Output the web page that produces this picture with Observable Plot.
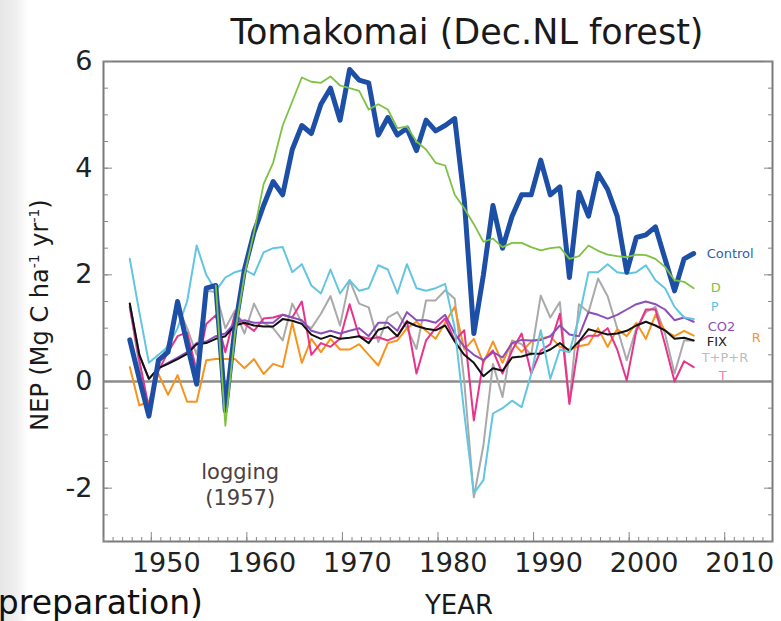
<!DOCTYPE html>
<html>
<head>
<meta charset="utf-8">
<script src="https://cdn.jsdelivr.net/npm/d3@7"></script>
<script src="https://cdn.jsdelivr.net/npm/@observablehq/plot@0.6"></script>
<style>
  html, body { margin: 0; padding: 0; background: #fff; }
  #wrap { position: relative; width: 781px; height: 621px; overflow: hidden;
          font-family: "DejaVu Sans", sans-serif;
          background: linear-gradient(to right, #e6e6e6 0px, #efefef 16px, #fafafa 24px, #ffffff 28px); }
  #chart { position: absolute; left: 0; top: 0; }
  #overlay { position: absolute; left: 0; top: 0; pointer-events: none; }
</style>
</head>
<body>
<div id="wrap">
  <div id="chart"></div>
  <svg id="overlay" width="781" height="621" font-family="DejaVu Sans, sans-serif">
    <text x="467" y="44" text-anchor="middle" font-size="35" fill="#1a1a1a">Tomakomai (Dec.NL forest)</text>
    <text transform="translate(48,315) rotate(-90)" text-anchor="middle" font-size="24" fill="#1a1a1a">NEP (Mg C ha<tspan dy="-9" font-size="14">-1</tspan><tspan dy="9"> yr</tspan><tspan dy="-9" font-size="14">-1</tspan><tspan dy="9">)</tspan></text>
    <text x="459" y="614" text-anchor="middle" font-size="26" fill="#1a1a1a">YEAR</text>
    <text x="203" y="614" text-anchor="end" font-size="33" fill="#111">(in preparation)</text>
  </svg>
</div>
<script>
// ---- data ----
const years = d3.range(1947, 2007);

const control = [0.78, 0.05, -0.65, 0.4, 0.55, 1.5, 0.7, -0.05, 1.75, 1.8,
  -0.55, 1.0, 2.1, 2.8, 3.3, 3.75, 3.5, 4.35, 4.8, 4.65,
  5.2, 5.5, 4.9, 5.85, 5.65, 5.6, 4.62, 4.95, 4.62, 4.75,
  4.33, 4.9, 4.7, 4.8, 4.93, 3.4, 0.9, 2.0, 3.3, 2.5,
  3.1, 3.5, 3.5, 4.15, 3.5, 3.65, 1.95, 3.55, 3.1, 3.9,
  3.6, 3.1, 2.05, 2.7, 2.75, 2.9, 2.3, 1.7, 2.3, 2.4];

const dSeries = [null, null, null, null, null, null, null, null, null, 1.8,
  -0.83, 0.9, 2.0, 2.8, 3.7, 4.1, 4.8, 5.25, 5.7, 5.62,
  5.6, 5.72, 5.55, 5.5, 5.45, 5.1, 5.2, 5.1, 4.75, 4.78,
  4.5, 4.35, 4.1, 4.05, 3.5, 3.25, 2.95, 2.62, 2.68, 2.52,
  2.6, 2.6, 2.52, 2.46, 2.5, 2.52, 2.3, 2.35, 2.55, 2.45,
  2.38, 2.35, 2.33, 2.38, 2.37, 2.3, 2.15, 1.9, 1.87, 1.75];

const pSeries = [2.3, 1.3, 0.35, 0.5, 0.65, 1.0, 1.5, 2.55, 2.0, 1.7,
  1.95, 2.05, 2.1, 2.0, 2.42, 2.5, 2.52, 2.05, 2.2, 1.8,
  1.65, 2.1, 1.65, 1.9, 1.7, 1.75, 2.18, 2.1, 1.65, 2.2,
  1.75, 1.7, 1.75, 1.83, 1.0, -0.6, -2.1, -1.85, -0.6, -0.5,
  -0.36, -0.48, 0.14, 0.96, 0.05, 0.6, 0.55, 1.2, 2.05, 2.05,
  2.2, 2.05, 2.02, 2.05, 2.18, 1.9, 1.75, 1.4, 1.2, 1.17];

const co2Series = [1.46, 0.5, 0.05, 0.25, 0.35, 0.45, 0.55, 0.72, 0.75, 0.85,
  0.9, 1.1, 1.15, 1.1, 1.1, 1.1, 1.25, 1.2, 1.15, 0.95,
  0.9, 0.95, 0.9, 0.95, 1.0, 0.85, 1.1, 1.1, 0.95, 1.3,
  1.15, 1.15, 1.1, 1.25, 0.9, 0.65, 0.5, 0.4, 0.55, 0.45,
  0.72, 0.78, 0.77, 0.78, 0.85, 1.05, 0.88, 0.85, 1.3, 1.25,
  1.18, 1.25, 1.35, 1.45, 1.5, 1.45, 1.35, 1.15, 1.2, 1.12];

const rSeries = [0.27, -0.45, -0.37, 0.14, -0.25, 0.12, -0.38, -0.38, 0.4, 0.42,
  0.42, 0.42, 0.25, 0.42, 0.14, 0.33, 0.27, 1.1, 0.35, 0.8,
  0.55, 0.8, 0.6, 0.6, 0.7, 0.5, 0.3, 0.72, 0.77, 1.0,
  1.12, 0.95, 0.8, 1.1, 1.4, 0.6, 0.8, 0.35, 0.75, 0.35,
  0.75, 0.55, 0.75, 0.8, 0.85, 0.65, 0.6, 0.66, 0.7, 1.0,
  0.65, 0.98, 0.85, 1.1, 0.8, 1.25, 0.95, 0.85, 0.95, 0.86];

const fixSeries = [1.46, 0.5, 0.05, 0.25, 0.33, 0.42, 0.52, 0.7, 0.72, 0.8,
  0.85, 1.05, 1.1, 1.05, 1.03, 1.03, 1.17, 1.14, 1.08, 0.88,
  0.8, 0.86, 0.8, 0.82, 0.85, 0.72, 0.97, 1.02, 0.85, 1.12,
  1.04, 0.99, 0.96, 1.05, 0.75, 0.5, 0.35, 0.1, 0.25, 0.2,
  0.45, 0.47, 0.52, 0.52, 0.6, 0.72, 0.57, 0.75, 0.98, 0.93,
  0.88, 0.9, 0.95, 1.05, 1.12, 1.05, 0.96, 0.8, 0.82, 0.77];

const tprSeries = [1.4, 0.3, -0.6, 0.3, 0.7, 1.4, 1.0, 0.5, 1.7, 1.68,
  1.0, 1.33, 0.9, 1.46, 1.1, 1.0, 0.77, 1.46, 1.1, 1.0,
  1.27, 1.6, 1.05, 1.9, 1.46, 1.39, 0.74, 1.2, 1.3, 1.0,
  0.61, 1.52, 1.52, 1.71, 1.55, 0.0, -2.17, -1.2, 0.33, -0.29,
  0.77, 0.7, 0.5, 1.61, 1.2, 1.49, -0.4, 1.45, 1.3, 1.93,
  1.6, 1.0, 0.4, 1.0, 1.3, 1.4, 0.9, 0.15, 0.77, 0.77];

const tSeries = [1.4, 0.4, -0.5, 0.2, 0.55, 0.85, 0.92, 0.2, 1.08, 1.24,
  0.55, 1.27, 1.08, 0.95, 1.18, 1.2, 1.25, 1.2, 1.5, 0.5,
  0.72, 0.65, 0.8, 1.45, 0.85, 0.8, 0.83, 0.77, 0.85, 1.14,
  0.15, 0.77, 1.0, 1.18, 0.77, 0.96, -0.73, 0.4, 0.58, 0.15,
  0.58, 0.9, 0.15, 0.58, 0.7, 1.27, -0.42, 0.75, 0.86, 0.86,
  1.0, 0.6, 0.02, 0.95, 1.35, 1.35, 0.7, 0.0, 0.38, 0.27];

const seriesNames = ["Control", "D", "P", "CO2", "R", "FIX", "T+P+R", "T"];
const xTickYears = [1950, 1960, 1970, 1980, 1990, 2000, 2010];
const yTickValues = [-2, 0, 2, 4, 6];
const annotations = [{year: 1957, label: "logging\n(1957)"}];

// ---- build tables ----
const seriesValues = {
  "Control": control, "D": dSeries, "P": pSeries, "CO2": co2Series,
  "R": rSeries, "FIX": fixSeries, "T+P+R": tprSeries, "T": tSeries
};
const styles = {
  "Control": {stroke: "#1d4fa6", width: 5, labelFill: "#2d5db3", dx: 13, dy: 0},
  "D":       {stroke: "#7dc242", width: 1.8, labelFill: "#7dc242", dx: 17, dy: 0},
  "P":       {stroke: "#62c6e0", width: 2, labelFill: "#62c6e0", dx: 17, dy: -12},
  "CO2":     {stroke: "#8c4fb8", width: 2, labelFill: "#8c4fb8", dx: 14, dy: 5},
  "R":       {stroke: "#f7941e", width: 2, labelFill: "#f7941e", dx: 58, dy: 2},
  "FIX":     {stroke: "#111111", width: 2, labelFill: "#222222", dx: 13, dy: 1},
  "T+P+R":   {stroke: "#a9a9a9", width: 2, labelFill: "#bdbdbd", dx: 8, dy: 17},
  "T":       {stroke: "#e8338a", width: 2, labelFill: "#ee82b8", dx: 25, dy: 9}
};
const drawOrder = ["T+P+R", "R", "T", "CO2", "FIX", "P", "Control", "D"];
const rowsOf = name => years.map((year, i) => ({year, value: seriesValues[name][i], series: name}));
const midYear = 0.75;
const X = d => d.year + midYear;

const yMinor = d3.range(-3, 6.001, 0.5);
const xMinor = d3.range(1945, 2015);

const marks = [
  Plot.ruleY([0], {stroke: "#8c8c8c", strokeWidth: 2.5}),
  ...drawOrder.map(n => Plot.line(rowsOf(n), {
    x: X, y: "value", stroke: styles[n].stroke, strokeWidth: styles[n].width,
    strokeLinejoin: "round", strokeLinecap: "round"
  })),
  ...seriesNames.map(n => Plot.text([rowsOf(n)[years.length - 1]], {
    x: X, y: "value", text: "series", fill: styles[n].labelFill,
    dx: styles[n].dx, dy: styles[n].dy, textAnchor: "start", fontSize: 13
  })),
  Plot.text(annotations, {
    x: "year", y: -1.92, text: "label", dx: 22, fontSize: 21, fill: "#4d4040", lineHeight: 1.24
  }),
  Plot.frame({stroke: "#7a7a7a", strokeWidth: 2}),
  // ticks inside the frame
  Plot.axisX(xMinor, {tickSize: -4, text: null, stroke: "#888"}),
  Plot.axisX(xTickYears, {tickSize: -9, text: null, stroke: "#888"}),
  Plot.axisY(yMinor, {tickSize: -5, text: null, stroke: "#888"}),
  Plot.axisY(yTickValues, {tickSize: -9, text: null, stroke: "#888"}),
  Plot.axisY(yMinor, {anchor: "right", tickSize: -5, text: null, stroke: "#888"}),
  Plot.axisY(yTickValues, {anchor: "right", tickSize: -9, text: null, stroke: "#888"}),
  // tick labels
  Plot.axisX(xTickYears, {tickSize: 0, tickPadding: 11, dx: 15, fontSize: 27, fill: "#222", tickFormat: d => String(d)}),
  Plot.axisY(yTickValues, {tickSize: 0, tickPadding: 11, fontSize: 27, fill: "#222", tickFormat: d => String(d)})
];

const chart = Plot.plot({
  width: 781,
  height: 621,
  marginLeft: 103,
  marginRight: 9,
  marginTop: 61,
  marginBottom: 80,
  style: {background: "transparent", fontFamily: "DejaVu Sans, sans-serif"},
  x: {domain: [1945, 2015], label: null},
  y: {domain: [-3, 6], label: null},
  marks
});
document.getElementById("chart").appendChild(chart);
</script>
</body>
</html>
